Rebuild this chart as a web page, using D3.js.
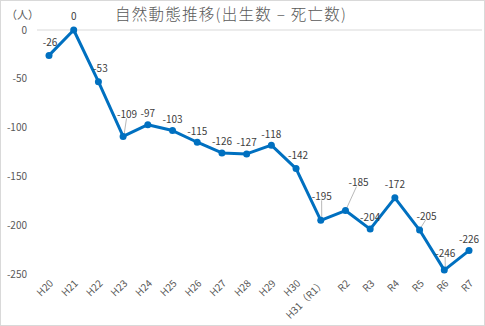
<!DOCTYPE html>
<html><head><meta charset="utf-8">
<script src="https://cdn.jsdelivr.net/npm/d3@7"></script>
<style>body{margin:0;background:#fff}svg{display:block}text{font-family:"Noto Sans CJK JP","Noto Sans",sans-serif}</style>
</head><body>
<svg id="c" width="485" height="326"></svg>
<script>
const categories = ["H20","H21","H22","H23","H24","H25","H26","H27","H28","H29","H30","H31（R1）","R2","R3","R4","R5","R6","R7"];
const values = [-26,0,-53,-109,-97,-103,-115,-126,-127,-118,-142,-195,-185,-204,-172,-205,-246,-226];
const yTicks = [0,-50,-100,-150,-200,-250];
// label offsets (dx, dy) from the point, and whether a leader line is drawn
const labelOffsets = [[1,-13],[0,-14],[2,-13],[4,-22],[0,-11],[0,-11],[0,-11],[0,-11],[0,-11],[0,-11],[2,-13],[1,-24],[13,-28],[0,-12],[0,-13],[7,-14],[1,-17],[0,-11]];
const leaders = [false,false,false,true,false,false,false,false,false,false,false,true,true,false,false,true,true,false];

const svg = d3.select("#c");
svg.append("rect").attr("x",0.5).attr("y",0.5).attr("width",484).attr("height",325).attr("fill","#fff").attr("stroke","#d9d9d9");

const x = d3.scalePoint().domain(categories).range([49,469]);
const y = d3.scaleLinear().domain([-250,0]).range([274,30]);

// zero line
svg.append("line").attr("x1",37).attr("x2",482).attr("y1",y(0)).attr("y2",y(0)).attr("stroke","#d9d9d9").attr("stroke-width",1);

// y axis labels
svg.append("g").selectAll("text").data(yTicks).join("text")
  .attr("x",27).attr("y",d=>y(d)).attr("dy","0.35em").attr("text-anchor","end")
  .attr("font-size",10).attr("fill","#595959").text(d=>d);

// x axis labels
svg.append("g").selectAll("text").data(categories).join("text")
  .attr("transform",d=>`translate(${x(d)+5},${284}) rotate(-45)`)
  .attr("text-anchor","end").attr("font-size",10).attr("fill","#595959").text(d=>d);

// unit and title
svg.append("text").attr("x",6).attr("y",19).attr("font-size",11).attr("fill","#595959").text("（人）");
svg.append("text").attr("x",115).attr("y",20).attr("font-size",15.5).attr("font-weight",300)
  .attr("textLength",231).attr("lengthAdjust","spacing").attr("fill","#595959").text("自然動態推移(出生数 – 死亡数)");

// leader lines
svg.append("g").selectAll("line").data(values.map((v,i)=>({v,i})).filter(d=>leaders[d.i])).join("line")
  .attr("x1",d=>x(categories[d.i])+labelOffsets[d.i][0]*0.85)
  .attr("y1",d=>y(d.v)+labelOffsets[d.i][1]+4)
  .attr("x2",d=>x(categories[d.i])+1).attr("y2",d=>y(d.v)-2)
  .attr("stroke","#a6a6a6").attr("stroke-width",0.8);

// line
svg.append("path").datum(values).attr("fill","none").attr("stroke","#0070C0").attr("stroke-width",3).attr("stroke-linejoin","round")
  .attr("d",d3.line().x((d,i)=>x(categories[i])).y(d=>y(d)));

svg.append("g").selectAll("circle").data(values).join("circle")
  .attr("cx",(d,i)=>x(categories[i])).attr("cy",d=>y(d)).attr("r",3.5).attr("fill","#0070C0");

// data labels
svg.append("g").selectAll("text").data(values).join("text")
  .attr("x",(d,i)=>x(categories[i])+labelOffsets[i][0]).attr("y",(d,i)=>y(d)+labelOffsets[i][1])
  .attr("text-anchor","middle").attr("dy","0.35em").attr("font-size",10).attr("fill","#404040").text(d=>d);
</script>
</body></html>
